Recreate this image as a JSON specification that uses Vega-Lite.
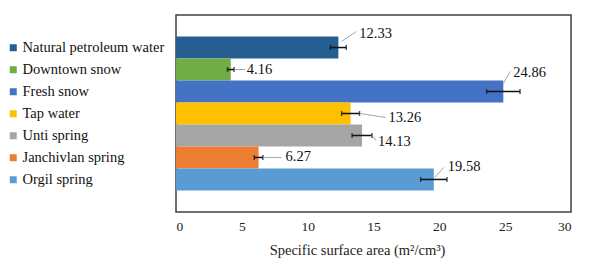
{
  "$schema": "https://vega.github.io/schema/vega-lite/v6.json",
  "autosize": "none",
  "width": 395,
  "height": 197,
  "padding": {"left": 176, "top": 15, "right": 19, "bottom": 61},
  "background": "white",
  "config": {
    "font": "Times New Roman, Liberation Serif, serif",
    "text": {"font": "Times New Roman, Liberation Serif, serif"},
    "axis": {"labelFont": "Times New Roman, Liberation Serif, serif", "titleFont": "Times New Roman, Liberation Serif, serif"},
    "legend": {"labelFont": "Times New Roman, Liberation Serif, serif"},
    "view": {"stroke": "#404040", "strokeWidth": 1.5}
  },
  "data": {
    "values": [
      {"name": "Natural petroleum water", "value": 12.33, "err": 0.6},
      {"name": "Downtown snow", "value": 4.16, "err": 0.25},
      {"name": "Fresh snow", "value": 24.86, "err": 1.27},
      {"name": "Tap water", "value": 13.26, "err": 0.68},
      {"name": "Unti spring", "value": 14.13, "err": 0.76},
      {"name": "Janchivlan spring", "value": 6.27, "err": 0.33},
      {"name": "Orgil spring", "value": 19.58, "err": 1.0}
    ]
  },
  "encoding": {
    "y": {"field": "name", "type": "nominal", "sort": null, "axis": null,
          "scale": {"paddingInner": 0, "paddingOuter": 0.98}},
    "x": {"field": "value", "type": "quantitative",
          "scale": {"domain": [0, 30], "nice": false},
          "axis": {"values": [0, 5, 10, 15, 20, 25, 30], "domain": false, "ticks": false, "grid": false,
                   "labelFontSize": 13.5, "labelColor": "#222222", "labelPadding": 7,
                   "title": "Specific surface area (m²/cm³)", "titleFontSize": 14.5, "titleFontWeight": "normal",
                   "titleColor": "#222222", "titleX": 181, "titleY": 38, "titleBaseline": "middle"}}
  },
  "layer": [
    {
      "mark": {"type": "bar"},
      "encoding": {
        "color": {"field": "name", "type": "nominal",
                  "scale": {"domain": ["Natural petroleum water", "Downtown snow", "Fresh snow", "Tap water", "Unti spring", "Janchivlan spring", "Orgil spring"],
                            "range": ["#255E91", "#70AD47", "#4472C4", "#FFC000", "#A5A5A5", "#ED7D31", "#5B9BD5"]},
                  "legend": {"orient": "none", "legendX": -170, "legendY": 25.5, "title": null,
                             "symbolType": "square", "symbolSize": 49, "symbolStrokeWidth": 0,
                             "labelFontSize": 14.5, "labelColor": "#111111", "labelOffset": 2,
                             "rowPadding": 7, "padding": 0, "labelLimit": 300}}
      }
    },
    {
      "mark": {"type": "errorbar", "ticks": {"size": 5, "color": "#111111"}, "color": "#111111", "thickness": 1.5},
      "encoding": {
        "xError": {"field": "err"}
      }
    },
    {"transform": [{"filter": {"field": "name", "equal": "Natural petroleum water"}}],
     "mark": {"type": "rule", "color": "#A6A6A6", "strokeWidth": 1, "xOffset": 3, "yOffset": -6, "x2Offset": 18, "y2Offset": -16},
     "encoding": {"x2": {"field": "value"}, "y2": {"field": "name"}}},
    {"transform": [{"filter": {"field": "name", "equal": "Downtown snow"}}],
     "mark": {"type": "rule", "color": "#A6A6A6", "strokeWidth": 1, "xOffset": 4, "yOffset": 0, "x2Offset": 14, "y2Offset": 0},
     "encoding": {"x2": {"field": "value"}, "y2": {"field": "name"}}},
    {"transform": [{"filter": {"field": "name", "equal": "Fresh snow"}}],
     "mark": {"type": "rule", "color": "#A6A6A6", "strokeWidth": 1, "xOffset": 0, "yOffset": -8, "x2Offset": 7, "y2Offset": -20},
     "encoding": {"x2": {"field": "value"}, "y2": {"field": "name"}}},
    {"transform": [{"filter": {"field": "name", "equal": "Tap water"}}],
     "mark": {"type": "rule", "color": "#A6A6A6", "strokeWidth": 1, "xOffset": 10, "yOffset": 0, "x2Offset": 35, "y2Offset": 4},
     "encoding": {"x2": {"field": "value"}, "y2": {"field": "name"}}},
    {"transform": [{"filter": {"field": "name", "equal": "Unti spring"}}],
     "mark": {"type": "rule", "color": "#A6A6A6", "strokeWidth": 1, "xOffset": 10, "yOffset": 0, "x2Offset": 14, "y2Offset": 5},
     "encoding": {"x2": {"field": "value"}, "y2": {"field": "name"}}},
    {"transform": [{"filter": {"field": "name", "equal": "Janchivlan spring"}}],
     "mark": {"type": "rule", "color": "#A6A6A6", "strokeWidth": 1, "xOffset": 5, "yOffset": 0, "x2Offset": 23, "y2Offset": 0},
     "encoding": {"x2": {"field": "value"}, "y2": {"field": "name"}}},
    {"transform": [{"filter": {"field": "name", "equal": "Orgil spring"}}],
     "mark": {"type": "rule", "color": "#A6A6A6", "strokeWidth": 1, "xOffset": 1, "yOffset": -2, "x2Offset": 10, "y2Offset": -12},
     "encoding": {"x2": {"field": "value"}, "y2": {"field": "name"}}},
    {"transform": [{"filter": {"field": "name", "equal": "Natural petroleum water"}}],
     "mark": {"type": "text", "align": "left", "baseline": "middle", "fontSize": 14.5, "color": "#111111", "dx": 21, "dy": -14},
     "encoding": {"text": {"field": "value", "format": ".2f"}}},
    {"transform": [{"filter": {"field": "name", "equal": "Downtown snow"}}],
     "mark": {"type": "text", "align": "left", "baseline": "middle", "fontSize": 14.5, "color": "#111111", "dx": 16, "dy": 0},
     "encoding": {"text": {"field": "value", "format": ".2f"}}},
    {"transform": [{"filter": {"field": "name", "equal": "Fresh snow"}}],
     "mark": {"type": "text", "align": "left", "baseline": "middle", "fontSize": 14.5, "color": "#111111", "dx": 10, "dy": -19},
     "encoding": {"text": {"field": "value", "format": ".2f"}}},
    {"transform": [{"filter": {"field": "name", "equal": "Tap water"}}],
     "mark": {"type": "text", "align": "left", "baseline": "middle", "fontSize": 14.5, "color": "#111111", "dx": 38, "dy": 4},
     "encoding": {"text": {"field": "value", "format": ".2f"}}},
    {"transform": [{"filter": {"field": "name", "equal": "Unti spring"}}],
     "mark": {"type": "text", "align": "left", "baseline": "middle", "fontSize": 14.5, "color": "#111111", "dx": 16, "dy": 7},
     "encoding": {"text": {"field": "value", "format": ".2f"}}},
    {"transform": [{"filter": {"field": "name", "equal": "Janchivlan spring"}}],
     "mark": {"type": "text", "align": "left", "baseline": "middle", "fontSize": 14.5, "color": "#111111", "dx": 27, "dy": 0},
     "encoding": {"text": {"field": "value", "format": ".2f"}}},
    {"transform": [{"filter": {"field": "name", "equal": "Orgil spring"}}],
     "mark": {"type": "text", "align": "left", "baseline": "middle", "fontSize": 14.5, "color": "#111111", "dx": 14, "dy": -12},
     "encoding": {"text": {"field": "value", "format": ".2f"}}}
  ]
}
